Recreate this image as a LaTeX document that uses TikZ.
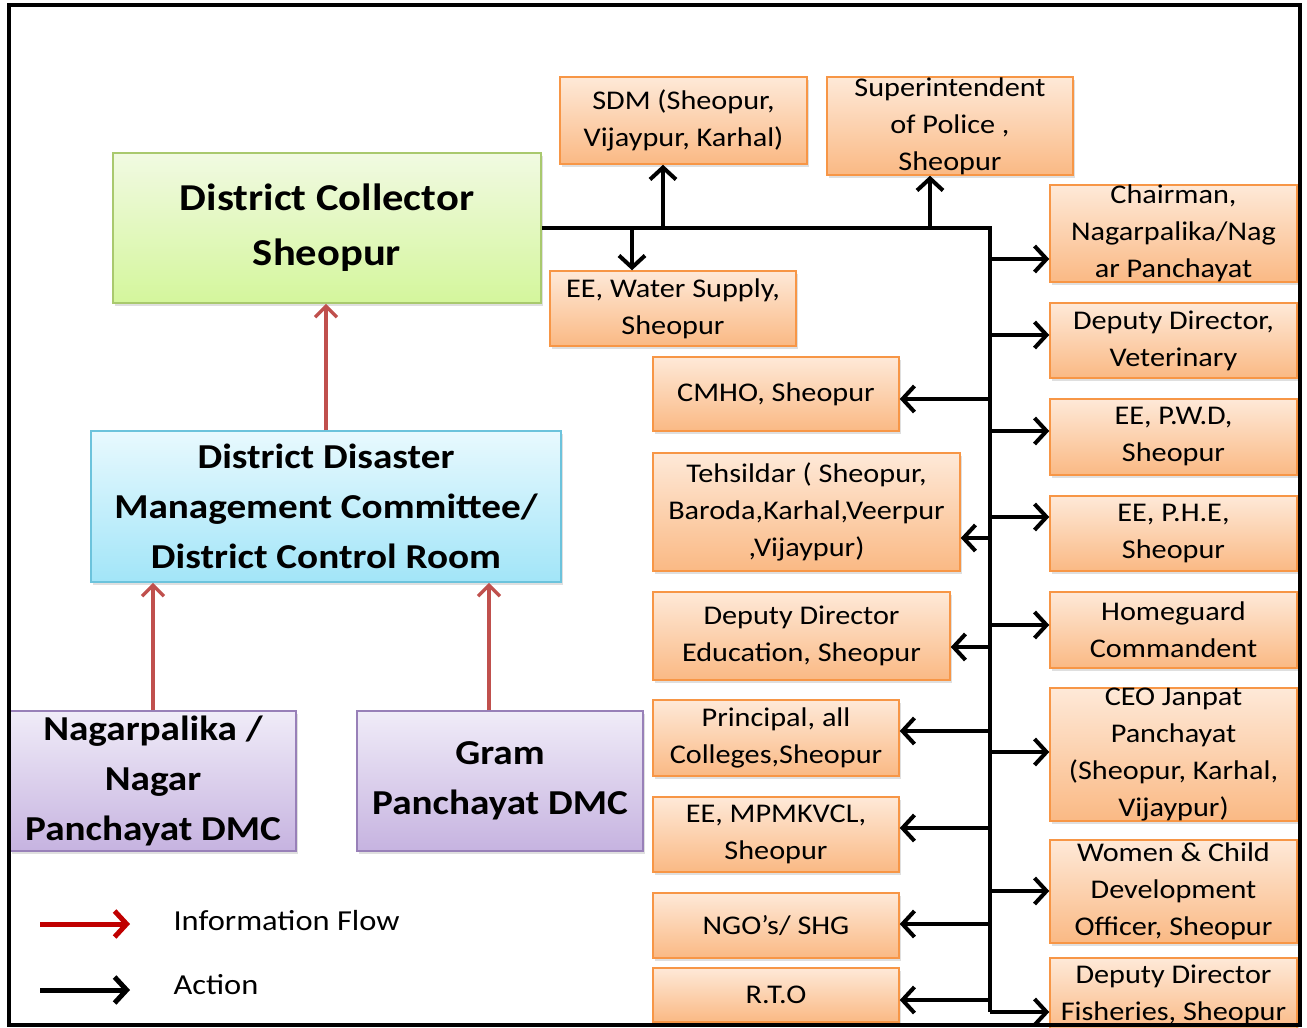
\documentclass[tikz,border=0pt]{standalone}
\usepackage{fontspec}
\setmainfont{Carlito}[FakeStretch=1.12]
\usetikzlibrary{arrows.meta,shadows}

\definecolor{orgtop}{HTML}{FEE9D8}
\definecolor{orgbot}{HTML}{FAB984}
\definecolor{orgline}{HTML}{F79646}
\definecolor{grntop}{HTML}{F1FAE2}
\definecolor{grnbot}{HTML}{D4F69C}
\definecolor{grnline}{HTML}{A9C96E}
\definecolor{blutop}{HTML}{E8F9FE}
\definecolor{blubot}{HTML}{A2E5F8}
\definecolor{bluline}{HTML}{6CC3DC}
\definecolor{purtop}{HTML}{F0ECF8}
\definecolor{purbot}{HTML}{C6B3E0}
\definecolor{purline}{HTML}{9880B8}
\definecolor{infred}{HTML}{C0504D}
\definecolor{legred}{HTML}{C00000}

\begin{document}
\begin{tikzpicture}[x=1pt,y=-1pt,
  box/.style={draw, line width=1.5pt, align=center, inner sep=0pt,
    drop shadow={shadow xshift=2pt,shadow yshift=-3pt,opacity=0.25}},
  obox/.style={box, draw=orgline, top color=orgtop, bottom color=orgbot,
    font=\fontsize{27}{37}\selectfont},
  gbox/.style={box, draw=grnline, top color=grntop, bottom color=grnbot,
    font=\bfseries\fontsize{38}{55}\selectfont},
  bbox/.style={box, draw=bluline, top color=blutop, bottom color=blubot,
    font=\bfseries\fontsize{35}{50}\selectfont},
  pbox/.style={box, draw=purline, top color=purtop, bottom color=purbot,
    font=\bfseries\fontsize{35}{50}\selectfont},
  act/.style={line width=4pt, -{Straight Barb[length=12pt,width=26pt]}},
  info/.style={line width=3.5pt, draw=infred, -{Straight Barb[length=11pt,width=22pt]}},
  legend/.style={anchor=west, font=\fontsize{29}{35}\selectfont}]

\useasboundingbox (0,0) rectangle (1307,1028);

% left column
\node[gbox, minimum width=428pt, minimum height=150pt] (dc) at (327,228) {District Collector\\Sheopur};
\node[bbox, minimum width=470pt, minimum height=151pt] (ddmc) at (326,506.5) {District Disaster\\Management Committee/\\District Control Room};
\node[pbox, minimum width=286pt, minimum height=140pt] (npdmc) at (153,781) {Nagarpalika /\\Nagar\\Panchayat DMC};
\node[pbox, minimum width=286pt, minimum height=140pt] (gpdmc) at (500,781) {Gram\\Panchayat DMC};

% top row
\node[obox, minimum width=247pt, minimum height=87pt] (sdm) at (683.5,120.5) {SDM (Sheopur,\\Vijaypur, Karhal)};
\node[obox, minimum width=246pt, minimum height=98pt] (sp) at (950,126) {Superintendent\\of Police ,\\Sheopur};
\node[obox, minimum width=246pt, minimum height=75pt] (ws) at (673,308.5) {EE, Water Supply,\\Sheopur};

% middle column
\node[obox, minimum width=246pt, minimum height=74pt] (cmho) at (776,394) {CMHO, Sheopur};
\node[obox, minimum width=307pt, minimum height=118pt] (tehs) at (806.5,512) {Tehsildar ( Sheopur,\\Baroda,Karhal,Veerpur\\,Vijaypur)};
\node[obox, minimum width=297pt, minimum height=88pt] (edu) at (801.5,636) {Deputy Director\\Education, Sheopur};
\node[obox, minimum width=246pt, minimum height=76pt] (prin) at (776,738) {Principal, all\\Colleges,Sheopur};
\node[obox, minimum width=246pt, minimum height=75pt] (mpm) at (776,834.5) {EE, MPMKVCL,\\Sheopur};
\node[obox, minimum width=246pt, minimum height=65pt] (ngo) at (776,925.5) {NGO’s/ SHG};
\node[obox, minimum width=246pt, minimum height=54pt] (rto) at (776,995) {R.T.O};

% right column
\node[obox, minimum width=247pt, minimum height=97pt] (chair) at (1173.5,233.5) {Chairman,\\Nagarpalika/Nag\\ar Panchayat};
\node[obox, minimum width=247pt, minimum height=75pt] (vet) at (1173.5,340.5) {Deputy Director,\\Veterinary};
\node[obox, minimum width=247pt, minimum height=76pt] (pwd) at (1173.5,437) {EE, P.W.D,\\Sheopur};
\node[obox, minimum width=247pt, minimum height=75pt] (phe) at (1173.5,533.5) {EE, P.H.E,\\Sheopur};
\node[obox, minimum width=247pt, minimum height=76pt] (home) at (1173.5,630) {Homeguard\\Commandent};
\node[obox, minimum width=247pt, minimum height=131pt] (ceo) at (1173.5,754.5) {CEO Janpat\\Panchayat\\(Sheopur, Karhal,\\Vijaypur)};
\node[obox, minimum width=247pt, minimum height=103pt] (women) at (1173.5,891.5) {Women \& Child\\Development\\Officer, Sheopur};
\node[obox, minimum width=247pt, minimum height=74pt] (fish) at (1173.5,995) {Deputy Director\\Fisheries, Sheopur};

% information flow
\draw[info] (ddmc.north) -- (ddmc.north |- dc.south);
\draw[info] (npdmc.north) -- (npdmc.north |- ddmc.south);
\draw[info] (gpdmc.north -| 489,0) -- (ddmc.south -| 489,0);

% action bus
\coordinate (bt) at (990,228);
\coordinate (bb) at (990,1012);
\draw[line width=4pt] (dc.east) -- (bt) -- (bb);
\coordinate (j0) at (632,228);
\coordinate (j1) at (663,228);
\coordinate (j2) at (930,228);
\draw[act] (j0) -- (j0 |- ws.north);
\draw[act] (j1) -- (j1 |- sdm.south);
\draw[act] (j2) -- (j2 |- sp.south);
\foreach \n/\y in {chair/259,vet/335,pwd/431,phe/517,home/625,ceo/752,women/891,fish/1012}
  \draw[act] (990,\y) -- (\n.west |- 0,\y);
\foreach \n/\y in {cmho/399,tehs/538,edu/647,prin/731,mpm/828,ngo/924,rto/1000}
  \draw[act] (990,\y) -- (\n.east |- 0,\y);

% legend
\coordinate (la) at (40,924);
\coordinate (lb) at (130,924);
\coordinate (lc) at (40,990);
\coordinate (ld) at (130,990);
\draw[line width=5pt, draw=legred, -{Straight Barb[length=12pt,width=26pt]}] (la) -- (lb);
\draw[line width=5pt, -{Straight Barb[length=12pt,width=26pt]}] (lc) -- (ld);
\node[legend] (linfo) at (170,921) {Information Flow};
\node[legend] (lact) at (170,985) {Action};

% frame
\draw[line width=4pt] (9,5) rectangle (1300,1025);
\end{tikzpicture}
\end{document}
